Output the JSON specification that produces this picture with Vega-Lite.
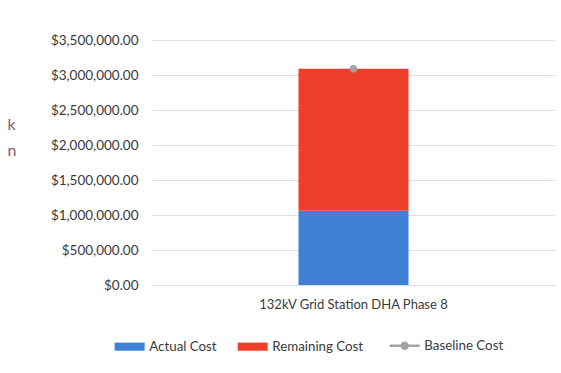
{
  "$schema": "https://vega.github.io/schema/vega-lite/v6.json",
  "width": 403,
  "height": 245,
  "autosize": {"type": "none"},
  "padding": {"left": 152, "top": 40, "right": 6, "bottom": 88},
  "background": "white",
  "config": {
    "font": "Lato",
    "view": {"stroke": null},
    "axis": {"labelFont": "Lato", "labelColor": "#3a3a3a"}
  },
  "data": {
    "values": [
      {"project": "132kV Grid Station DHA Phase 8", "series": "Actual Cost", "value": 1060000},
      {"project": "132kV Grid Station DHA Phase 8", "series": "Remaining Cost", "value": 2030000},
      {"project": "132kV Grid Station DHA Phase 8", "series": "Baseline Cost", "value": 3090000}
    ]
  },
  "encoding": {
    "x": {
      "field": "project", "type": "nominal",
      "axis": {"title": null, "labelAngle": 0, "ticks": false, "domain": false, "labelPadding": 13, "labelFontSize": 13, "labelLimit": 400}
    },
    "y": {
      "field": "value", "type": "quantitative", "stack": "zero",
      "scale": {"domain": [0, 3500000], "nice": false},
      "axis": {
        "values": [0, 500000, 1000000, 1500000, 2000000, 2500000, 3000000, 3500000],
        "format": "$,.2f", "labelOverlap": false, "labelFontSize": 13.5,
        "ticks": false, "domain": false, "labelPadding": 14,
        "gridColor": "#d9dee8", "gridWidth": 1,
        "title": ["k", "n"], "titleAngle": 0, "titleAlign": "left", "titleBaseline": "top",
        "titleX": -145, "titleY": 76, "titleLineHeight": 26,
        "titleFont": "Lato", "titleFontSize": 16, "titleFontWeight": "normal", "titleColor": "#8c5570"
      }
    },
    "color": {
      "field": "series", "type": "nominal",
      "scale": {"domain": ["Actual Cost", "Remaining Cost", "Baseline Cost"], "range": ["#3f7fd4", "#ef3e2c", "#a3a3a3"]},
      "legend": {
        "title": null, "orient": "none", "direction": "horizontal",
        "legendX": -29, "legendY": 299,
        "symbolSize": 900, "labelFont": "Lato", "labelFontSize": 13.3, "labelColor": "#3a3a3a",
        "labelOffset": 13, "columnPadding": 20,
        "encode": {
          "symbols": {
            "update": {
              "shape": {"signal": "datum.value === 'Baseline Cost' ? 'M-1,0H1M0.2,0A0.2,0.2 0 1,1 -0.2,0A0.2,0.2 0 1,1 0.2,0Z' : 'M-1,-0.27H1V0.27H-1Z'"},
              "stroke": {"signal": "scale('color', datum.value)"},
              "strokeWidth": {"signal": "datum.value === 'Baseline Cost' ? 2.5 : 0"},
              "fill": {"signal": "scale('color', datum.value)"},
              "opacity": {"value": 1},
              "fillOpacity": {"value": 1}
            }
          }
        }
      }
    }
  },
  "layer": [
    {
      "transform": [{"filter": "datum.series !== 'Baseline Cost'"}],
      "mark": {"type": "bar", "width": 110},
      "encoding": {
        "order": {"field": "series", "sort": "ascending"}
      }
    },
    {
      "transform": [{"filter": "datum.series === 'Baseline Cost'"}],
      "mark": {"type": "point", "filled": true, "size": 55, "opacity": 1, "shape": "circle"}
    }
  ]
}
